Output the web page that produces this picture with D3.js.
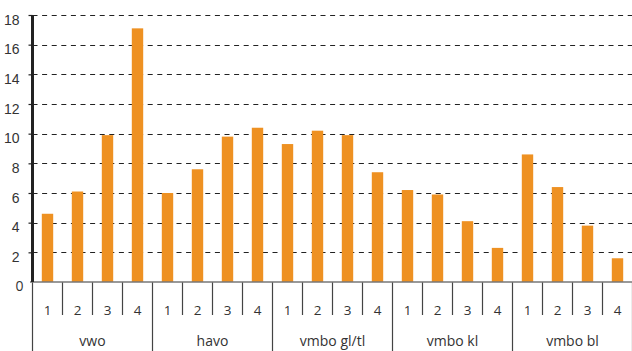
<!DOCTYPE html>
<html>
<head>
<meta charset="utf-8">
<script src="https://cdn.jsdelivr.net/npm/d3@7"></script>
<style>
  html, body { margin: 0; padding: 0; background: #fff; }
  svg { display: block; font-family: "Open Sans", "Noto Sans", sans-serif; }
</style>
</head>
<body>
<svg id="chart" width="632" height="351"></svg>
<script>
// ---- data ----
const groups = ["vwo", "havo", "vmbo gl/tl", "vmbo kl", "vmbo bl"];
const subs = ["1", "2", "3", "4"];
const vwo = [4.6, 6.1, 9.9, 17.1];
const havo = [6.0, 7.6, 9.8, 10.4];
const vmboGlTl = [9.3, 10.2, 9.9, 7.4];
const vmboKl = [6.2, 5.9, 4.1, 2.3];
const vmboBl = [8.6, 6.4, 3.8, 1.6];
const yTicks = [0, 2, 4, 6, 8, 10, 12, 14, 16, 18];

const seriesByGroup = [vwo, havo, vmboGlTl, vmboKl, vmboBl];
const rows = [];
groups.forEach((g, gi) => subs.forEach((s, si) => rows.push({ group: g, sub: s, value: seriesByGroup[gi][si] })));

// ---- layout ----
const svg = d3.select("#chart");
const plotLeft = 32.5, plotRight = 632.5, plotTop = 15, base = 282;

const x0 = d3.scaleBand().domain(groups).range([plotLeft, plotRight]).padding(0);
const x1 = d3.scaleBand().domain(subs).range([0, x0.bandwidth()]).paddingInner(0.62).paddingOuter(0.31);
const xs = d3.scaleBand().domain(subs).range([0, x0.bandwidth()]).padding(0);
const y = d3.scaleLinear().domain([0, 18]).range([base, plotTop]);

// gridlines
svg.append("g").selectAll("line")
  .data(yTicks.filter(d => d > 0))
  .join("line")
  .attr("x1", plotLeft).attr("x2", 632)
  .attr("y1", d => Math.round(y(d)) + 0.5).attr("y2", d => Math.round(y(d)) + 0.5)
  .attr("stroke", "#222").attr("stroke-width", 1.1)
  .attr("stroke-dasharray", "5,4.6");

// bars
svg.append("g").selectAll("rect")
  .data(rows)
  .join("rect")
  .attr("x", d => x0(d.group) + x1(d.sub))
  .attr("width", x1.bandwidth())
  .attr("y", d => y(d.value))
  .attr("height", d => base - y(d.value))
  .attr("fill", "#EE9122");

// sub-category ticks (short)
const subTickData = [];
groups.forEach(g => subs.forEach((s, i) => { if (i > 0) subTickData.push(x0(g) + xs(s)); }));
svg.append("g").selectAll("line")
  .data(subTickData)
  .join("line")
  .attr("x1", d => d).attr("x2", d => d)
  .attr("y1", base).attr("y2", 315)
  .attr("stroke", "#444").attr("stroke-width", 1.2);

// group separators (long)
const sepData = groups.map(g => x0(g)).concat([x0(groups[groups.length - 1]) + x0.bandwidth()]);
svg.append("g").selectAll("line")
  .data(sepData)
  .join("line")
  .attr("x1", d => d).attr("x2", d => d)
  .attr("y1", base).attr("y2", 351)
  .attr("stroke", "#444").attr("stroke-width", 1.2);

// baseline
svg.append("line")
  .attr("x1", 30).attr("x2", 632)
  .attr("y1", base).attr("y2", base)
  .attr("stroke", "#777").attr("stroke-width", 1.6);

// y axis
const yAxis = svg.append("g").attr("transform", `translate(${plotLeft},0)`)
  .call(d3.axisLeft(y).tickValues(yTicks.filter(d => d > 0)).tickSize(4).tickPadding(9));
yAxis.select(".domain").attr("stroke", "#222").attr("stroke-width", 3).attr("d", `M0,${plotTop}V${base}`);
yAxis.selectAll(".tick line").attr("stroke", "#222").attr("stroke-width", 1.2);
yAxis.selectAll(".tick text").attr("fill", "#333").attr("font-size", 14).attr("dy", "0.65em");
// zero label
svg.append("text").attr("x", plotLeft - 9).attr("y", y(0)).attr("dy", "0.65em")
  .attr("text-anchor", "end").attr("font-size", 14).attr("fill", "#333").text(yTicks[0]);

// sub labels
svg.append("g").selectAll("text")
  .data(rows)
  .join("text")
  .attr("x", d => x0(d.group) + xs(d.sub) + xs.bandwidth() / 2)
  .attr("y", 310)
  .attr("dy", "0.35em")
  .attr("text-anchor", "middle")
  .attr("font-size", 13.5)
  .attr("fill", "#333")
  .text(d => d.sub);

// group labels
svg.append("g").selectAll("text")
  .data(groups)
  .join("text")
  .attr("x", d => x0(d) + x0.bandwidth() / 2)
  .attr("y", 346)
  .attr("text-anchor", "middle")
  .attr("font-size", 14)
  .attr("fill", "#333")
  .text(d => d);
</script>
</body>
</html>
